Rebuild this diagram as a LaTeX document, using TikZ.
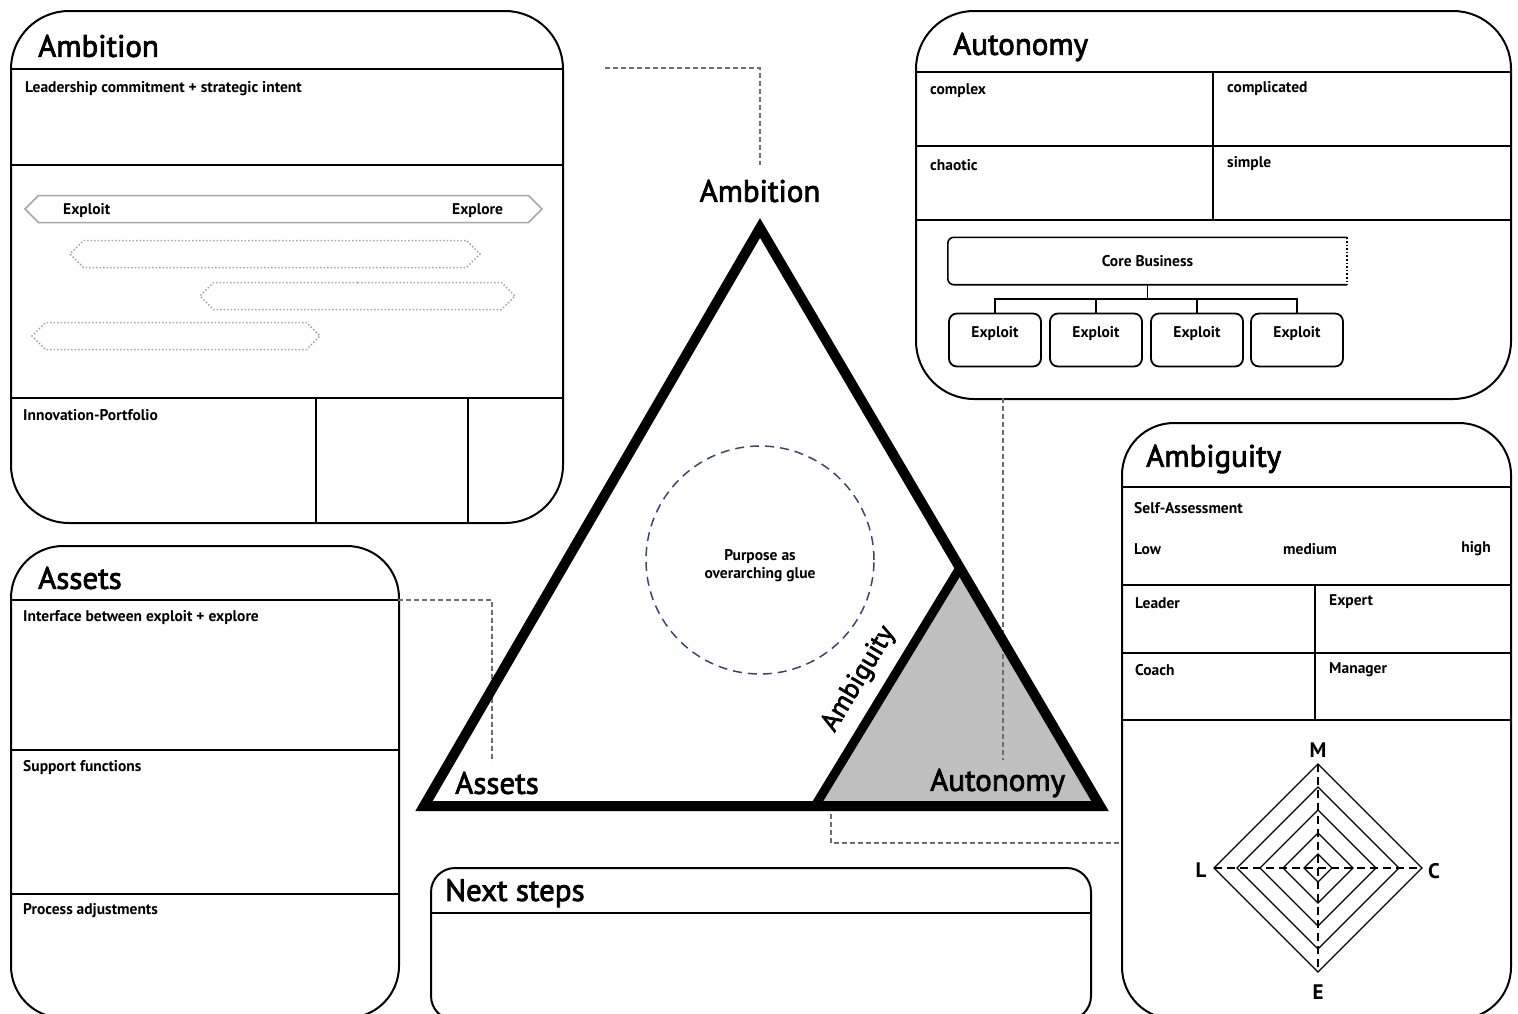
\documentclass[tikz,border=0pt]{standalone}
\usepackage{fontspec}
\setmainfont{PT Sans}
\newfontfamily\titlefam{PT Sans}[FakeBold=2.5]
\usetikzlibrary{shapes.symbols,positioning,calc}

\definecolor{glue}{HTML}{34496B}
\definecolor{greyfill}{HTML}{BFBFBF}
\definecolor{linkgray}{HTML}{6E6E6E}

\newcommand\headfont{\titlefam\fontsize{31}{34}\selectfont}
\newcommand\cellfont{\bfseries\fontsize{15.5}{18}\selectfont}

\tikzset{
  panel/.style={draw=black, line width=2pt, anchor=north west, inner sep=0pt},
  head/.style={anchor=west, inner sep=0pt, font=\headfont},
  cell/.style={anchor=west, inner sep=0pt, font=\cellfont},
  rule/.style={line width=1.6pt},
  link/.style={draw=linkgray, line width=1.3pt, dash pattern=on 5pt off 3pt},
  band/.style={signal, signal to=east and west, draw=black!35, line width=1.5pt,
    minimum height=27pt, inner sep=0pt},
  leaf/.style={draw, rounded corners=8pt, line width=1.8pt, minimum width=92pt,
    minimum height=53pt, inner sep=0pt},
  tri/.style={line width=10pt, line join=miter}
}

\begin{document}
\begin{tikzpicture}[x=1pt,y=-1pt]
	\useasboundingbox (0,0) rectangle (1518,1013);
	\clip (0,0) rectangle (1518,1013);

	% panels
	\node[panel, rounded corners=58pt, minimum width=552pt, minimum height=512pt] (ambition) at (10,10) {};
	\node[panel, rounded corners=58pt, minimum width=595pt, minimum height=388pt] (autonomy) at (915,10) {};
	\node[panel, rounded corners=52pt, minimum width=389pt, minimum height=596pt] (ambiguity) at (1121,422) {};
	\node[panel, rounded corners=52pt, minimum width=388pt, minimum height=472pt] (assets) at (10,545) {};
	\node[panel, rounded corners=24pt, minimum width=660pt, minimum height=152pt] (next) at (430,867) {};

	% Ambition panel
	\node[head] (hAmbition) at (38,46) {Ambition};
	\draw[rule] (10,69) -- (562,69);
	\draw[rule] (10,165) -- (562,165);
	\draw[rule] (10,398) -- (562,398);
	\draw[rule] (316,398) -- (316,522);
	\draw[rule] (468,398) -- (468,522);
	\node[cell] (tLead) at (25,89) {Leadership commitment + strategic intent};
	\node[band, minimum width=517pt] (scale) at (283.5,209) {};
	\node[cell] (tExploit) at (63,211) {Exploit};
	\node[cell] (tExplore) at (452,211) {Explore};
	\node[band, dotted, minimum width=410pt] (bar1) at (275,254) {};
	\node[band, dotted, minimum width=315pt] (bar2) at (357.5,296) {};
	\node[band, dotted, minimum width=288pt] (bar3) at (176,336) {};
	\node[cell] (tPortfolio) at (23,415) {Innovation-Portfolio};

	% Autonomy panel
	\node[head] (hAutonomy) at (953,47) {Autonomy};
	\draw[rule] (915,72) -- (1510,72);
	\draw[rule] (915,146) -- (1510,146);
	\draw[rule] (915,220) -- (1510,220);
	\draw[rule] (1213,72) -- (1213,220);
	\node[cell] (tComplex) at (930,91) {complex};
	\node[cell] (tComplicated) at (1227,89) {complicated};
	\node[cell] (tChaotic) at (930,165) {chaotic};
	\node[cell] (tSimple) at (1227,164) {simple};
	\node[minimum width=399pt, minimum height=47pt, inner sep=0pt, font=\cellfont] (core) at (1147.5,261) {Core Business};
	\draw[rule, rounded corners=6pt] (core.north east) -- (core.north west) -- (core.south west) -- (core.south east);
	\draw[line width=1.6pt, dotted] (core.north east) -- (core.south east);
	\coordinate (hub) at ([yshift=-14pt]core.south);
	\draw[rule] (core.south) -- (hub);
	\foreach \i/\x in {1/995,2/1096,3/1197,4/1297} {
		\node[leaf] (ex\i) at (\x,340) {};
		\node[cell, anchor=center] (tex\i) at (\x,334) {Exploit};
	}
	\foreach \i in {1,...,4}
		\draw[rule] (hub) -| (ex\i.north);

	% Ambiguity panel
	\node[head] (hAmbiguity) at (1146,459) {Ambiguity};
	\draw[rule] (1121,487) -- (1510,487);
	\draw[rule] (1121,585) -- (1510,585);
	\draw[rule] (1121,653) -- (1510,653);
	\draw[rule] (1121,720) -- (1510,720);
	\draw[rule] (1315,585) -- (1315,720);
	\node[cell] (tSelf) at (1134,508) {Self-Assessment};
	\node[cell] (tLow) at (1134,549) {Low};
	\node[cell, anchor=center] (tMedium) at (1310,549) {medium};
	\node[cell, anchor=center] (tHigh) at (1476,549) {high};
	\node[cell] (tLeader) at (1135,603) {Leader};
	\node[cell] (tExpert) at (1329,602) {Expert};
	\node[cell] (tCoach) at (1135,670) {Coach};
	\node[cell] (tManager) at (1329,670) {Manager};
	% radar
	\coordinate (rc) at (1318,868);
	\foreach \r in {104,81,58,35,14}
		\draw[line width=1.3pt] ($(rc)+(0,-\r)$) -- ($(rc)+(\r,0)$) -- ($(rc)+(0,\r)$) -- ($(rc)+(-\r,0)$) -- cycle;
	\draw[line width=1.3pt, dash pattern=on 8pt off 5pt] ($(rc)+(0,-104)$) -- ($(rc)+(0,104)$);
	\draw[line width=1.3pt, dash pattern=on 8pt off 5pt] ($(rc)+(-104,0)$) -- ($(rc)+(104,0)$);
	\node[font=\bfseries\fontsize{21}{23}\selectfont] (rM) at (1318,750) {M};
	\node[font=\bfseries\fontsize{21}{23}\selectfont] (rE) at (1318,992) {E};
	\node[font=\bfseries\fontsize{21}{23}\selectfont] (rL) at (1201,870) {L};
	\node[font=\bfseries\fontsize{21}{23}\selectfont] (rC) at (1434,871) {C};

	% Assets panel
	\node[head] (hAssets) at (38,578) {Assets};
	\draw[rule] (10,600) -- (398,600);
	\draw[rule] (10,750) -- (398,750);
	\draw[rule] (10,894) -- (398,894);
	\node[cell] (tInterface) at (23,618) {Interface between exploit + explore};
	\node[cell] (tSupport) at (23,768) {Support functions};
	\node[cell] (tProcess) at (23,911) {Process adjustments};

	% Next steps panel
	\node[head] (hNext) at (445,893) {Next steps};
	\draw[rule] (430,913) -- (1090,913);

	% triangle
	\coordinate (apex) at (760,228);
	\coordinate (bl) at (424,806);
	\coordinate (br) at (1100,806);
	\coordinate (cut) at (815,806);
	\coordinate (mid) at ($(br)!0.412!(apex)$);
	\fill[greyfill] (cut) -- (mid) -- (br) -- cycle;

	% dashed connectors
	\coordinate (k1) at (605,68);
	\coordinate (k1e) at (760,165);
	\draw[link] (k1) -| (k1e);
	\coordinate (k2) at (398,600);
	\coordinate (k2e) at (492,762);
	\draw[link] (k2) -| (k2e);
	\coordinate (k3) at (1003,398);
	\coordinate (k3e) at (1003,760);
	\draw[link] (k3) -- (k3e);
	\coordinate (k4) at (831,806);
	\draw[link] (k4) |- (ambiguity.west |- 0,843);

	\draw[tri] (apex) -- (bl) -- (br) -- cycle;
	\draw[line width=9pt] (cut) -- (mid);

	\node[circle, draw=glue, line width=1.5pt, dash pattern=on 9pt off 6pt, minimum size=228pt] (purpose) at (760,560) {};
	\node[align=center, font=\cellfont, inner sep=0pt] (tPurpose) at (760,566) {Purpose as\\overarching glue};

	\node[font=\headfont] (tAmbition) at (760,191) {Ambition};
	\node[head] (tAssets) at (455,783) {Assets};
	\node[head] (tAutonomy) at (930,783) {Autonomy};
	\node[font=\titlefam\fontsize{27}{29}\selectfont, rotate=59] (tAmbiguity) at (859,679) {Ambiguity};
\end{tikzpicture}
\end{document}
